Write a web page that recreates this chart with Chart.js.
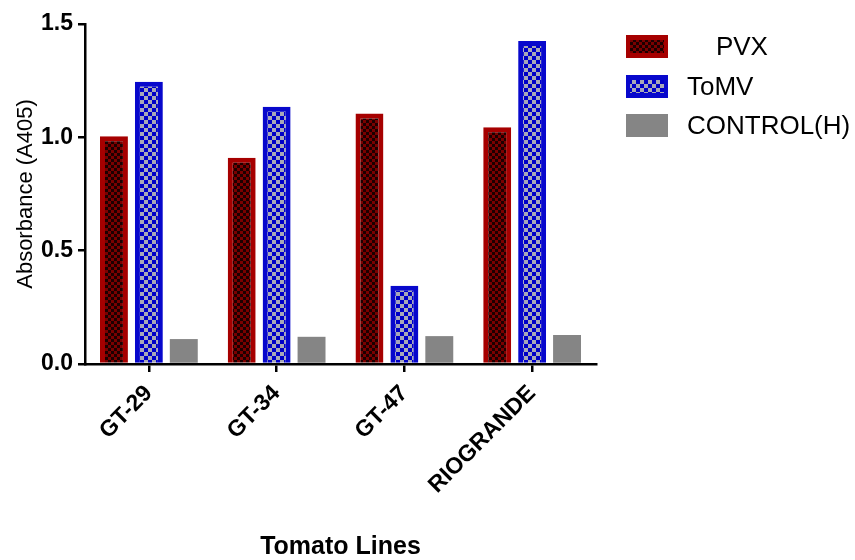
<!DOCTYPE html>
<html>
<head>
<meta charset="utf-8">
<script src="https://cdn.jsdelivr.net/npm/chart.js@4.4.1/dist/chart.umd.min.js"></script>
<style>
  html, body { margin: 0; padding: 0; background: #fff; }
  #wrap { width: 855px; height: 560px; position: relative; }
</style>
</head>
<body>
<div id="wrap"><canvas id="c" width="855" height="560"></canvas></div>
<script>
const categories = ['GT-29', 'GT-34', 'GT-47', 'RIOGRANDE'];
const seriesLabels = ['    PVX', 'ToMV', 'CONTROL(H)'];
const pvxValues = [1.005, 0.91, 1.105, 1.045];
const tomvValues = [1.245, 1.135, 0.345, 1.425];
const controlValues = [0.11, 0.12, 0.123, 0.128];
const yTicks = [0, 0.5, 1.0, 1.5];

function checker(cell, c1, c2) {
  const cv = document.createElement('canvas');
  cv.width = cell * 2; cv.height = cell * 2;
  const g = cv.getContext('2d');
  g.fillStyle = c1; g.fillRect(0, 0, cell * 2, cell * 2);
  g.fillStyle = c2;
  g.fillRect(0, 0, cell, cell);
  g.fillRect(cell, cell, cell, cell);
  return g.createPattern(cv, 'repeat');
}
const ctx = document.getElementById('c').getContext('2d');
const redPattern = checker(3, '#7a0000', '#1c0000');
const bluePattern = checker(4, '#0000c8', '#a8a8b8');

const FONT = "'Liberation Sans', Arial, sans-serif";

const legendPlugin = {
  id: 'customLegend',
  afterDraw(chart) {
    const c = chart.ctx;
    const x = 626, w = 42, h = 23;
    const tops = [35, 75, 114];
    chart.data.datasets.forEach((ds, i) => {
      const y = tops[i];
      const bw = ds.borderWidth || 0;
      if (bw) {
        c.fillStyle = ds.borderColor;
        c.fillRect(x, y, w, h);
        c.fillStyle = ds.backgroundColor;
        c.fillRect(x + 4, y + 5, w - 8, h - 10);
      } else {
        c.fillStyle = ds.backgroundColor;
        c.fillRect(x, y, w, h);
      }
      c.fillStyle = '#000';
      c.font = '26px ' + FONT;
      c.textBaseline = 'middle';
      c.textAlign = 'left';
      c.fillText(ds.label, 687, y + h / 2 + 1);
    });
  }
};

new Chart(ctx, {
  type: 'bar',
  data: {
    labels: categories,
    datasets: [
      { label: seriesLabels[0], data: pvxValues, backgroundColor: redPattern, borderColor: '#a60000', borderWidth: 5 },
      { label: seriesLabels[1], data: tomvValues, backgroundColor: bluePattern, borderColor: '#0808cc', borderWidth: 5 },
      { label: seriesLabels[2], data: controlValues, backgroundColor: '#858585', borderWidth: 0 }
    ]
  },
  options: {
    responsive: false,
    animation: false,
    devicePixelRatio: 1,
    categoryPercentage: 0.82,
    barPercentage: 0.8,
    layout: { padding: { left: 0, top: 24, right: 259, bottom: 0 } },
    plugins: { legend: { display: false }, tooltip: { enabled: false } },
    scales: {
      x: {
        afterFit(scale) { scale.height = 196; },
        grid: { display: true, drawOnChartArea: false, drawTicks: true, offset: false, tickLength: 8, tickWidth: 2.5, tickColor: '#000', lineWidth: 2.5, color: '#000' },
        border: { display: true, color: '#000', width: 2.5 },
        ticks: { color: '#000', minRotation: 45, maxRotation: 45, autoSkip: false, padding: 8, font: { family: FONT, size: 23, weight: 'bold' } },
        title: { display: true, text: 'Tomato Lines', color: '#000', padding: { top: 0, bottom: 0 }, font: { family: FONT, size: 25, weight: 'bold', lineHeight: 1 } }
      },
      y: {
        min: 0, max: 1.5,
        afterFit(scale) { scale.width = 85; },
        afterBuildTicks(scale) { scale.ticks = yTicks.map(v => ({ value: v })); },
        grid: { display: true, drawOnChartArea: false, drawTicks: true, tickLength: 7, tickWidth: 2.5, tickColor: '#000', lineWidth: 2.5, color: '#000' },
        border: { display: true, color: '#000', width: 2.5 },
        ticks: { color: '#000', padding: 5, font: { family: FONT, size: 23, weight: 'bold' }, callback: v => Number(v).toFixed(1) },
        title: { display: true, text: 'Absorbance (A405)', color: '#000', padding: { top: 13, bottom: 0 }, font: { family: FONT, size: 22, weight: 'normal' } }
      }
    }
  },
  plugins: [legendPlugin]
});
</script>
</body>
</html>
